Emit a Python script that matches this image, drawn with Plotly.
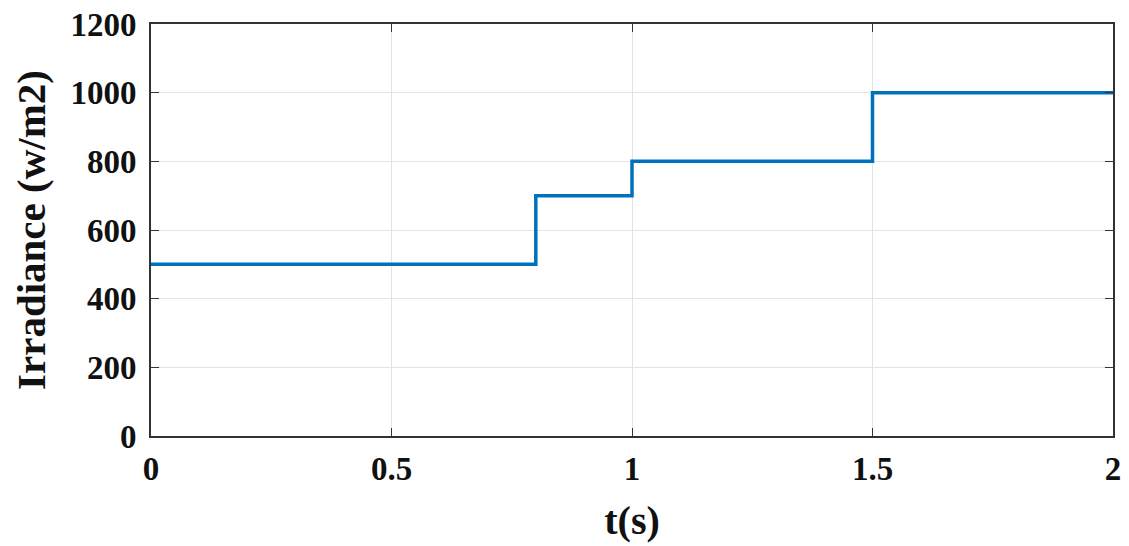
import plotly.graph_objects as go

t_steps = [0, 0.8, 1.0, 1.5, 2.0]
irradiance = [500, 700, 800, 1000, 1000]
x_ticks = [0, 0.5, 1, 1.5, 2]
x_tick_labels = ["0", "0.5", "1", "1.5", "2"]
y_ticks = [0, 200, 400, 600, 800, 1000, 1200]

font_family = "Liberation Serif"
bold = dict(family=font_family, color="#111111", weight="bold")

fig = go.Figure()
fig.add_trace(go.Scatter(
    x=t_steps, y=irradiance, mode="lines", line_shape="hv",
    line=dict(color="#0072BD", width=3.5), showlegend=False,
))

axis_common = dict(
    showline=True, linecolor="#333333", linewidth=2, mirror="ticks",
    ticks="inside", ticklen=8, tickwidth=1, tickcolor="#333333",
    showgrid=True, gridcolor="#e3e3e3", gridwidth=1, zeroline=False,
    tickfont=dict(size=33, **bold), automargin=False,
    ticklabeloverflow="allow",
)

fig.update_xaxes(range=[0, 2], tickvals=x_ticks, ticktext=x_tick_labels,
                 ticklabelstandoff=2,
                 title=dict(text="t(s)", font=dict(size=40, **bold), standoff=20),
                 **axis_common)
fig.update_yaxes(range=[0, 1200], tickvals=y_ticks,
                 ticklabelstandoff=6,
                 title=dict(text="Irradiance (w/m2)", font=dict(size=41, **bold), standoff=12),
                 **axis_common)

fig.update_layout(
    width=1121, height=538,
    margin=dict(l=143, r=16, t=16, b=110),
    plot_bgcolor="white", paper_bgcolor="white",
    font=dict(size=33, **bold),
)

fig.write_html("out.html")
